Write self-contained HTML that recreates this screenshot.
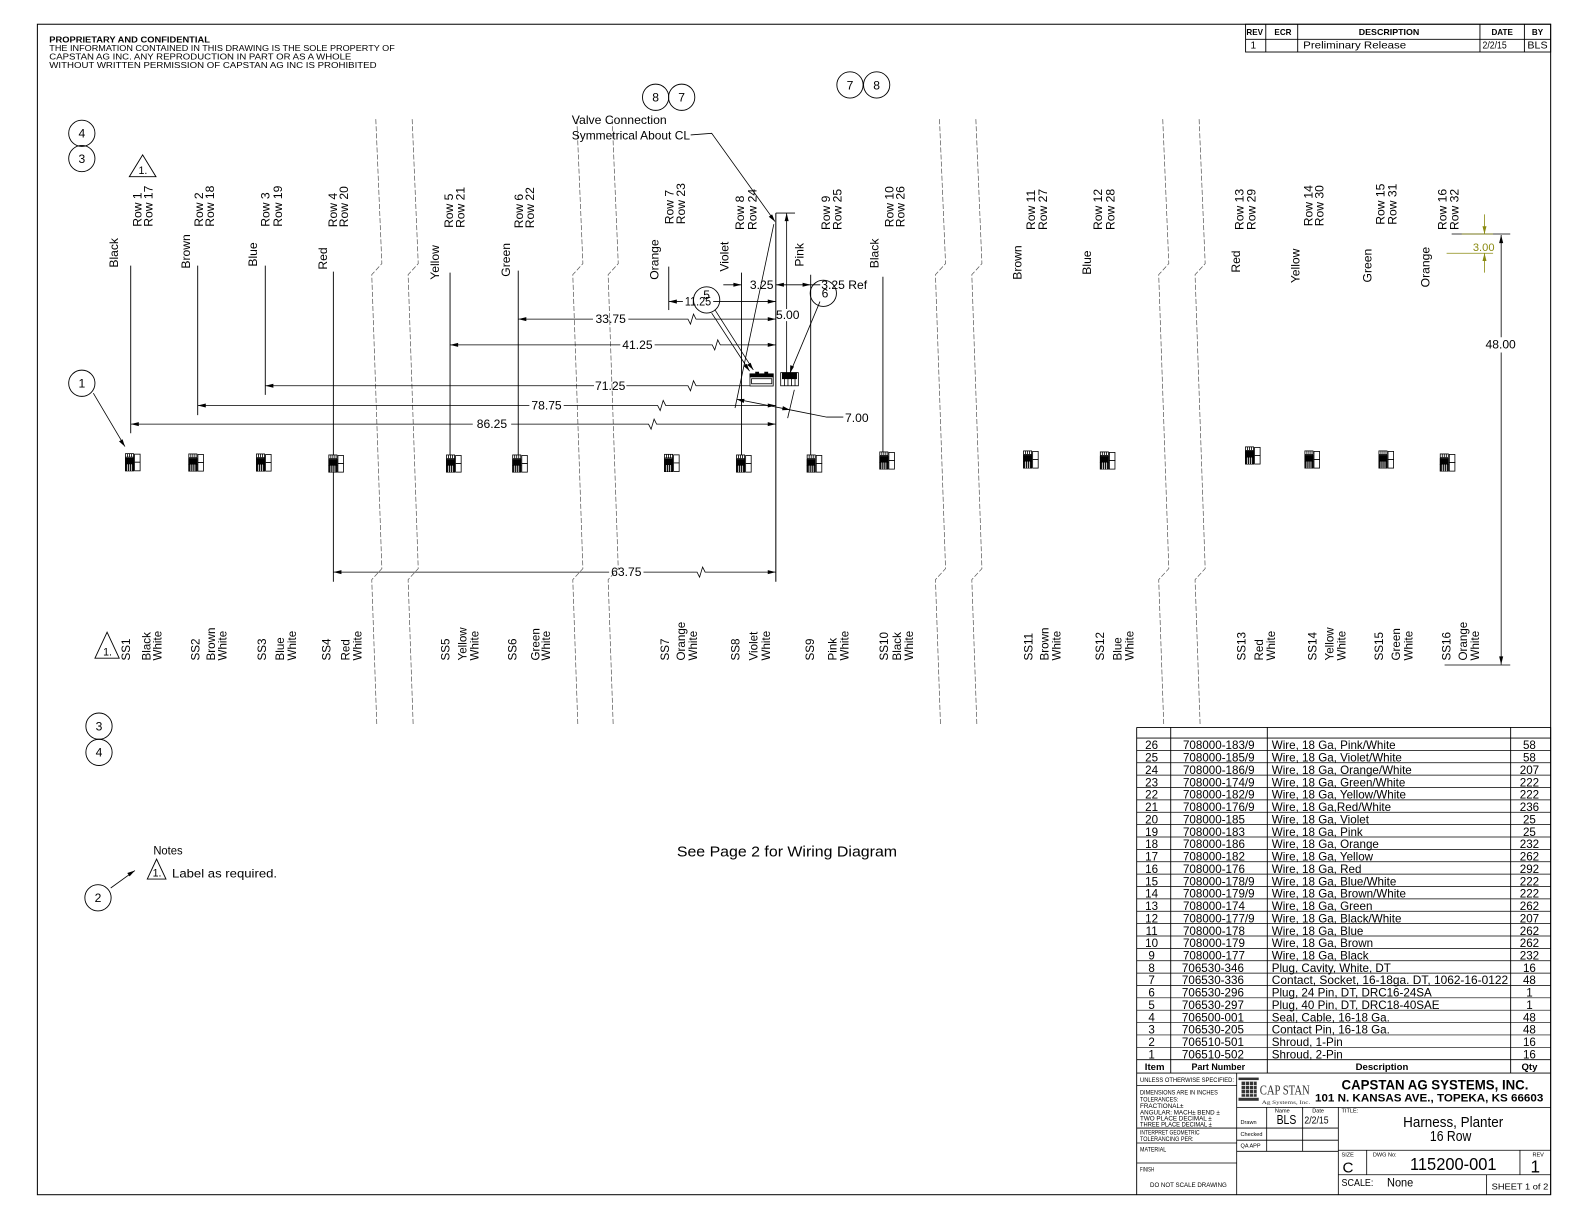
<!DOCTYPE html>
<html><head><meta charset="utf-8"><style>
html,body{margin:0;padding:0;background:#fff;}
svg{display:block;}
text{font-family:"Liberation Sans",Arial,sans-serif;fill:#000;}
.s{font-family:"Liberation Serif",serif;}
</style></head><body>
<svg width="1584" height="1224" viewBox="0 0 1568 1212" preserveAspectRatio="none" xmlns="http://www.w3.org/2000/svg">
<defs>
<g id="cn" stroke="#000" stroke-width="0.8">
<rect x="0.5" y="0.5" width="8" height="17" fill="#fff"/>
<path d="M0.5 4H8.5M2.5 0.5V4M4.5 0.5V4M6.5 0.5V4" fill="none"/>
<rect x="0.5" y="5" width="8" height="6" fill="#000"/>
<rect x="0.5" y="11" width="8" height="6.5" fill="#111"/>
<path d="M2.5 11V17.5M4.5 11V17.5M6.5 11V17.5" stroke="#fff" stroke-width="0.7"/>
<rect x="9.5" y="1" width="5.5" height="8" fill="#fff"/>
<rect x="9.5" y="9" width="5.5" height="8.5" fill="#fff"/>
</g>
</defs>
<rect x="0" y="0" width="1568" height="1212" fill="#fff"/>
<!-- frame -->
<rect x="37" y="24" width="1498" height="1159" fill="none" stroke="#000" stroke-width="1"/>

<!-- header text -->
<text x="48.8" y="42" font-size="8.3" font-weight="bold" textLength="159" lengthAdjust="spacingAndGlyphs">PROPRIETARY AND CONFIDENTIAL</text>
<text x="48.8" y="50.5" font-size="8.3" textLength="342" lengthAdjust="spacingAndGlyphs">THE INFORMATION CONTAINED IN THIS DRAWING IS THE SOLE PROPERTY OF</text>
<text x="48.8" y="59" font-size="8.3" textLength="299" lengthAdjust="spacingAndGlyphs">CAPSTAN AG INC. ANY REPRODUCTION IN PART OR AS A WHOLE</text>
<text x="48.8" y="67.5" font-size="8.3" textLength="324" lengthAdjust="spacingAndGlyphs">WITHOUT WRITTEN PERMISSION OF CAPSTAN AG INC IS PROHIBITED</text>

<!-- revision table -->
<g stroke="#000" stroke-width="0.9" fill="none">
<rect x="1233" y="24" width="302" height="27.5"/>
<path d="M1233 38.9H1535M1253 24V51.5M1284.6 24V51.5M1465 24V51.5M1509 24V51.5"/>
</g>
<g font-size="8" font-weight="bold" text-anchor="middle">
<text x="1242" y="34.5">REV</text><text x="1270" y="34.5">ECR</text><text x="1375" y="34.5" textLength="60" lengthAdjust="spacingAndGlyphs">DESCRIPTION</text><text x="1487" y="34.5">DATE</text><text x="1522" y="34.5">BY</text>
</g>
<text x="1240.7" y="48" font-size="10" text-anchor="middle">1</text>
<text x="1290" y="48" font-size="10" textLength="102" lengthAdjust="spacingAndGlyphs">Preliminary Release</text>
<text x="1467.5" y="48" font-size="10" textLength="24" lengthAdjust="spacingAndGlyphs">2/2/15</text>
<text x="1512" y="48" font-size="10" textLength="20" lengthAdjust="spacingAndGlyphs">BLS</text>

<!-- break lines -->
<g stroke="#555" stroke-width="0.7" fill="none" stroke-dasharray="5 2">
<path d="M372 118L378 261L368 272L378 563L368 574L373 718"/>
<path d="M408 118L414 261L404 272L414 563L404 574L409 718"/>
<path d="M571 118L577 261L567 272L577 563L567 574L572 718"/>
<path d="M606 118L612 261L602 272L612 563L602 574L607 718"/>
<path d="M930 118L936 261L926 272L936 563L926 574L931 718"/>
<path d="M966 118L972 261L962 272L972 563L962 574L967 718"/>
<path d="M1151 118L1157 261L1147 272L1157 563L1147 574L1152 718"/>
<path d="M1187 118L1193 261L1183 272L1193 563L1183 574L1188 718"/>
</g>

<!-- wires -->
<g stroke="#000" stroke-width="0.9" fill="none">
<path d="M129.4 263V429"/>
<path d="M195.7 263V411"/>
<path d="M262.6 263V391"/>
<path d="M330 269V576"/>
<path d="M445.5 270V457"/>
<path d="M513 268V457"/>
<path d="M662 264V307"/>
<path d="M734 270V457"/>
<path d="M802.5 272V457"/>
<path d="M874 274V455"/>
<path d="M768 211V576" stroke-width="1"/>
</g>

<!-- connectors -->
<use href="#cn" x="123.7" y="448.7"/>
<use href="#cn" x="186.4" y="449"/>
<use href="#cn" x="253.4" y="449"/>
<use href="#cn" x="325" y="450"/>
<use href="#cn" x="441.5" y="450"/>
<use href="#cn" x="507" y="450"/>
<use href="#cn" x="657.3" y="449.4"/>
<use href="#cn" x="728.6" y="450"/>
<use href="#cn" x="798.5" y="450"/>
<use href="#cn" x="870.4" y="447"/>
<use href="#cn" x="1012.7" y="446"/>
<use href="#cn" x="1088.7" y="447"/>
<use href="#cn" x="1232.4" y="442"/>
<use href="#cn" x="1291.2" y="446"/>
<use href="#cn" x="1364.5" y="446"/>
<use href="#cn" x="1425.2" y="449"/>

<!-- top labels (rotated) -->
<g font-size="12">
<text transform="translate(117 265) rotate(-90)">Black</text>
<text transform="translate(140 224.5) rotate(-90)">Row 1</text>
<text transform="translate(151 224.5) rotate(-90)">Row 17</text>
<text transform="translate(188 266) rotate(-90)">Brown</text>
<text transform="translate(201 224.5) rotate(-90)">Row 2</text>
<text transform="translate(212 224.5) rotate(-90)">Row 18</text>
<text transform="translate(254.6 264) rotate(-90)">Blue</text>
<text transform="translate(267 224.5) rotate(-90)">Row 3</text>
<text transform="translate(279 224.5) rotate(-90)">Row 19</text>
<text transform="translate(323.6 267) rotate(-90)">Red</text>
<text transform="translate(333.6 225) rotate(-90)">Row 4</text>
<text transform="translate(344.6 225) rotate(-90)">Row 20</text>
<text transform="translate(434.5 277) rotate(-90)">Yellow</text>
<text transform="translate(448.4 225.7) rotate(-90)">Row 5</text>
<text transform="translate(460 225.7) rotate(-90)">Row 21</text>
<text transform="translate(505 274) rotate(-90)">Green</text>
<text transform="translate(517.5 226) rotate(-90)">Row 6</text>
<text transform="translate(528.5 226) rotate(-90)">Row 22</text>
<text transform="translate(652 277) rotate(-90)">Orange</text>
<text transform="translate(666.5 222) rotate(-90)">Row 7</text>
<text transform="translate(678 222) rotate(-90)">Row 23</text>
<text transform="translate(721 269) rotate(-90)">Violet</text>
<text transform="translate(736.5 227.7) rotate(-90)">Row 8</text>
<text transform="translate(749 227.7) rotate(-90)">Row 24</text>
<text transform="translate(795.2 264) rotate(-90)">Pink</text>
<text transform="translate(821.6 227.7) rotate(-90)">Row 9</text>
<text transform="translate(833 227.7) rotate(-90)">Row 25</text>
<text transform="translate(869.5 265.6) rotate(-90)">Black</text>
<text transform="translate(884.3 225) rotate(-90)">Row 10</text>
<text transform="translate(895.5 225) rotate(-90)">Row 26</text>
<text transform="translate(1011 277) rotate(-90)">Brown</text>
<text transform="translate(1024.6 227.7) rotate(-90)">Row 11</text>
<text transform="translate(1036.4 227.7) rotate(-90)">Row 27</text>
<text transform="translate(1080 272) rotate(-90)">Blue</text>
<text transform="translate(1091 227.7) rotate(-90)">Row 12</text>
<text transform="translate(1103 227.7) rotate(-90)">Row 28</text>
<text transform="translate(1227.5 270) rotate(-90)">Red</text>
<text transform="translate(1231 227.7) rotate(-90)">Row 13</text>
<text transform="translate(1243 227.7) rotate(-90)">Row 29</text>
<text transform="translate(1286.5 280.4) rotate(-90)">Yellow</text>
<text transform="translate(1299 224) rotate(-90)">Row 14</text>
<text transform="translate(1310 224) rotate(-90)">Row 30</text>
<text transform="translate(1357.7 279.7) rotate(-90)">Green</text>
<text transform="translate(1370.6 222.5) rotate(-90)">Row 15</text>
<text transform="translate(1382.6 222.5) rotate(-90)">Row 31</text>
<text transform="translate(1415 284.5) rotate(-90)">Orange</text>
<text transform="translate(1432 227.7) rotate(-90)">Row 16</text>
<text transform="translate(1444 227.7) rotate(-90)">Row 32</text>
</g>

<!-- bottom labels (rotated) -->
<g font-size="11.5">
<text transform="translate(128.7 654) rotate(-90)">SS1</text>
<text transform="translate(149.2 654) rotate(-90)">Black</text>
<text transform="translate(160 654) rotate(-90)">White</text>
<text transform="translate(197.3 654) rotate(-90)">SS2</text>
<text transform="translate(213 654) rotate(-90)">Brown</text>
<text transform="translate(224.4 654) rotate(-90)">White</text>
<text transform="translate(263.3 654) rotate(-90)">SS3</text>
<text transform="translate(281 654) rotate(-90)">Blue</text>
<text transform="translate(293 654) rotate(-90)">White</text>
<text transform="translate(327.3 654) rotate(-90)">SS4</text>
<text transform="translate(345.8 654) rotate(-90)">Red</text>
<text transform="translate(358 654) rotate(-90)">White</text>
<text transform="translate(444.8 654) rotate(-90)">SS5</text>
<text transform="translate(462 654) rotate(-90)">Yellow</text>
<text transform="translate(473.5 654) rotate(-90)">White</text>
<text transform="translate(511.4 654) rotate(-90)">SS6</text>
<text transform="translate(534 654) rotate(-90)">Green</text>
<text transform="translate(544.5 654) rotate(-90)">White</text>
<text transform="translate(662 654) rotate(-90)">SS7</text>
<text transform="translate(678 654) rotate(-90)">Orange</text>
<text transform="translate(690 654) rotate(-90)">White</text>
<text transform="translate(732 654) rotate(-90)">SS8</text>
<text transform="translate(750 654) rotate(-90)">Violet</text>
<text transform="translate(762 654) rotate(-90)">White</text>
<text transform="translate(806 654) rotate(-90)">SS9</text>
<text transform="translate(828 654) rotate(-90)">Pink</text>
<text transform="translate(840 654) rotate(-90)">White</text>
<text transform="translate(879 654) rotate(-90)">SS10</text>
<text transform="translate(892 654) rotate(-90)">Black</text>
<text transform="translate(904 654) rotate(-90)">White</text>
<text transform="translate(1022 654) rotate(-90)">SS11</text>
<text transform="translate(1038 654) rotate(-90)">Brown</text>
<text transform="translate(1050 654) rotate(-90)">White</text>
<text transform="translate(1093 654) rotate(-90)">SS12</text>
<text transform="translate(1110 654) rotate(-90)">Blue</text>
<text transform="translate(1122 654) rotate(-90)">White</text>
<text transform="translate(1233 654) rotate(-90)">SS13</text>
<text transform="translate(1250 654) rotate(-90)">Red</text>
<text transform="translate(1262 654) rotate(-90)">White</text>
<text transform="translate(1303 654) rotate(-90)">SS14</text>
<text transform="translate(1320 654) rotate(-90)">Yellow</text>
<text transform="translate(1332 654) rotate(-90)">White</text>
<text transform="translate(1369 654) rotate(-90)">SS15</text>
<text transform="translate(1386 654) rotate(-90)">Green</text>
<text transform="translate(1398 654) rotate(-90)">White</text>
<text transform="translate(1436 654) rotate(-90)">SS16</text>
<text transform="translate(1452 654) rotate(-90)">Orange</text>
<text transform="translate(1464 654) rotate(-90)">White</text>
</g>

<!-- dimensions -->
<g stroke="#000" stroke-width="0.8" fill="none">
<path d="M513 316H587M622 316H681l2.5 5l3 -10l2.5 5H768"/>
<path d="M445.5 341.5H614M648 341.5H705l2.5 5l3 -10l2.5 5H768"/>
<path d="M262.6 382H588M620 382H681l2.5 5l3 -10l2.5 5H742"/>
<path d="M195.7 401.5H524M558 401.5H651l2.5 5l3 -10l2.5 5H768"/>
<path d="M129.4 420H468M506 420H642l2.5 5l3 -10l2.5 5H768"/>
<path d="M330 566.5H603M637 566.5H690l2.5 5l3 -10l2.5 5H768"/>
<path d="M662 298.6H676M706 298.6H768"/>
<path d="M778.7 211V306M778.7 318V369M768 211H787"/>
<path d="M716 282H734M768 282H812"/>
<path d="M766 222L727.6 404M786.3 386L779.7 414M729.2 395.3L782 405.8L818.3 413H834.8"/>
<path d="M683.7 133.6L704.5 132L767.2 219.4"/>
<path d="M92.4 389.3L123.7 442.2"/>
<path d="M109.6 879.3L133.6 862"/>
<path d="M707.8 306.9L745.7 366.3M704.5 310L742 367.5"/>
<path d="M811.7 298.6L782 369.5"/>
<path d="M1486 232.7V334M1486 349V658M1437 231.7H1495M1430 658.5H1495"/>
</g>
<g fill="#000" stroke="none">
<polygon points="513,316 521,314 521,318"/><polygon points="768,316 760,314 760,318"/>
<polygon points="445.5,341.5 453.5,339.5 453.5,343.5"/><polygon points="768,341.5 760,339.5 760,343.5"/>
<polygon points="262.6,382 270.6,380 270.6,384"/>
<polygon points="195.7,401.5 203.7,399.5 203.7,403.5"/><polygon points="768,401.5 760,399.5 760,403.5"/>
<polygon points="129.4,420 137.4,418 137.4,422"/><polygon points="768,420 760,418 760,422"/>
<polygon points="330,566.5 338,564.5 338,568.5"/><polygon points="768,566.5 760,564.5 760,568.5"/>
<polygon points="662,298.6 670,296.6 670,300.6"/><polygon points="768,298.6 760,296.6 760,300.6"/>
<polygon points="778.7,211 776.7,219 780.7,219"/>
<polygon points="734,282 726,280 726,284"/><polygon points="768,282 776,280 776,284"/><polygon points="802.5,282 794.5,280 794.5,284"/>
<polygon points="729.2,395.3 737,395 736.2,399"/><polygon points="782,405.8 774.2,406.2 775,402.2"/>
<polygon points="767.2,219.4 761,214.6 764.3,212.3"/>
<polygon points="123.7,442.2 117.8,437 121.3,435"/>
<polygon points="133.6,862 128.3,867.8 126,864.5"/>
<polygon points="745.7,366.3 739.6,361.3 743,359.2"/>
<polygon points="742,367.5 736,362.4 739.3,360.3"/>
<polygon points="782,369.5 782.3,361.5 786,363"/>
<polygon points="1486,232.7 1484,240.7 1488,240.7"/><polygon points="1486,658 1484,650 1488,650"/>
</g>
<g font-size="12" text-anchor="middle">
<text x="604.5" y="320">33.75</text>
<text x="631" y="345.5">41.25</text>
<text x="604" y="386">71.25</text>
<text x="541" y="405.5">78.75</text>
<text x="487" y="424">86.25</text>
<text x="620" y="570.5">63.75</text>
<text x="691" y="302.6" textLength="26" lengthAdjust="spacingAndGlyphs">11.25</text>
<text x="754" y="286">3.25</text>
<text x="779.8" y="316">5.00</text>
<text x="1485.5" y="345">48.00</text>
</g>
<text x="813" y="286" font-size="12">3.25 Ref</text>
<text x="836.5" y="418" font-size="12">7.00</text>

<!-- olive 3.00 dim -->
<g stroke="#8a8a10" stroke-width="0.8" fill="none">
<path d="M1447 231.7H1478M1432 250.8H1478M1469.5 212.3V231.7M1469.5 270V250.8"/>
</g>
<g fill="#8a8a10"><polygon points="1469.5,231.7 1467.5,224 1471.5,224"/><polygon points="1469.5,250.8 1467.5,258.5 1471.5,258.5"/></g>
<text x="1458" y="248.5" font-size="11" fill="#8a8a10" style="fill:#8a8a10">3.00</text>

<!-- valve connectors -->
<g stroke="#000" stroke-width="0.8">
<rect x="742.4" y="370.2" width="23" height="12" fill="#fff"/>
<rect x="742.4" y="370.2" width="23" height="3" fill="#000"/>
<rect x="744" y="375" width="20" height="5" fill="none"/>
<rect x="748" y="368.5" width="3" height="3" fill="#000"/>
<rect x="757" y="368.5" width="3" height="3" fill="#000"/>
<rect x="772.8" y="369" width="17.5" height="13" fill="#fff"/>
<rect x="774.5" y="369" width="14" height="6" fill="#000"/>
<path d="M776.5 375V382M780 375V382M783.5 375V382M787 375V382" fill="none"/>
</g>

<!-- valve text -->
<text x="566" y="123" font-size="12" textLength="94" lengthAdjust="spacingAndGlyphs">Valve Connection</text>
<text x="566" y="138" font-size="12" textLength="117" lengthAdjust="spacingAndGlyphs">Symmetrical About CL</text>

<!-- balloons -->
<g stroke="#000" stroke-width="0.9" fill="none">
<circle cx="81" cy="132" r="13"/><circle cx="81" cy="157" r="13"/>
<circle cx="81" cy="379.5" r="13"/>
<circle cx="649" cy="96.3" r="13"/><circle cx="674.8" cy="96.3" r="13"/>
<circle cx="841.4" cy="84.1" r="13"/><circle cx="867.8" cy="84.1" r="13"/>
<circle cx="699.5" cy="297" r="13"/>
<circle cx="815" cy="290.4" r="13"/>
<circle cx="98" cy="719" r="13"/><circle cx="98" cy="745" r="13"/>
<circle cx="97" cy="889" r="13"/>
<polygon points="141.2,153.4 128,175 154.4,175"/>
<polygon points="106,626 94,651.7 118,651.7"/>
<polygon points="155,850.7 145.8,870.4 164.3,870.4"/>
</g>
<g font-size="12" text-anchor="middle">
<text x="81" y="136.3">4</text><text x="81" y="161.3">3</text>
<text x="81" y="383.8">1</text>
<text x="649" y="100.6">8</text><text x="674.8" y="100.6">7</text>
<text x="841.4" y="88.4">7</text><text x="867.8" y="88.4">8</text>
<text x="699.5" y="296">5</text>
<text x="816.7" y="294.5">6</text>
<text x="98" y="723.3">3</text><text x="98" y="749.3">4</text>
<text x="97" y="893.3">2</text>
</g>
<g font-size="10.5" text-anchor="middle">
<text x="141.5" y="172.5">1.</text>
<text x="106.5" y="649">1.</text>
<text x="155.5" y="868">1.</text>
</g>

<!-- notes -->
<text x="151.8" y="846" font-size="12" textLength="29" lengthAdjust="spacingAndGlyphs">Notes</text>
<text x="170.3" y="869" font-size="12" textLength="104" lengthAdjust="spacingAndGlyphs">Label as required.</text>
<text x="670" y="848" font-size="15" textLength="218" lengthAdjust="spacingAndGlyphs">See Page 2 for Wiring Diagram</text>

<!-- BOM table -->
<g stroke="#000" stroke-width="0.9" fill="none">
<path d="M1125.2 720.3H1535M1125.2 730.8H1535M1125.2 720.3V1183M1535 720.3V1183M1158.9 720.3V1062.5M1254.5 720.3V1062.5M1495.4 720.3V1062.5"/>
<path stroke-width="0.7" d="M1125.2 743.05H1535M1125.2 755.3H1535M1125.2 767.55H1535M1125.2 779.8H1535M1125.2 792.05H1535M1125.2 804.3H1535M1125.2 816.55H1535M1125.2 828.8H1535M1125.2 841.05H1535M1125.2 853.3H1535M1125.2 865.55H1535M1125.2 877.8H1535M1125.2 890.05H1535M1125.2 902.3H1535M1125.2 914.55H1535M1125.2 926.8H1535M1125.2 939.05H1535M1125.2 951.3H1535M1125.2 963.55H1535M1125.2 975.8H1535M1125.2 988.05H1535M1125.2 1000.3H1535M1125.2 1012.55H1535M1125.2 1024.8H1535M1125.2 1037.05H1535"/>
<path d="M1125.2 1049.3H1535M1125.2 1062.5H1535"/>
</g>
<g font-size="11.5">
<g text-anchor="middle">
<text x="1140" y="741.9">26</text><text x="1140" y="754.1">25</text><text x="1140" y="766.4">24</text><text x="1140" y="778.6">23</text><text x="1140" y="790.9">22</text><text x="1140" y="803.1">21</text><text x="1140" y="815.4">20</text><text x="1140" y="827.6">19</text><text x="1140" y="839.9">18</text><text x="1140" y="852.1">17</text><text x="1140" y="864.4">16</text><text x="1140" y="876.6">15</text><text x="1140" y="888.9">14</text><text x="1140" y="901.1">13</text><text x="1140" y="913.4">12</text><text x="1140" y="925.6">11</text><text x="1140" y="937.9">10</text><text x="1140" y="950.1">9</text><text x="1140" y="962.4">8</text><text x="1140" y="974.6">7</text><text x="1140" y="986.9">6</text><text x="1140" y="999.1">5</text><text x="1140" y="1011.4">4</text><text x="1140" y="1023.6">3</text><text x="1140" y="1035.9">2</text><text x="1140" y="1048.1">1</text>
<text x="1514" y="741.9">58</text><text x="1514" y="754.1">58</text><text x="1514" y="766.4">207</text><text x="1514" y="778.6">222</text><text x="1514" y="790.9">222</text><text x="1514" y="803.1">236</text><text x="1514" y="815.4">25</text><text x="1514" y="827.6">25</text><text x="1514" y="839.9">232</text><text x="1514" y="852.1">262</text><text x="1514" y="864.4">292</text><text x="1514" y="876.6">222</text><text x="1514" y="888.9">222</text><text x="1514" y="901.1">262</text><text x="1514" y="913.4">207</text><text x="1514" y="925.6">262</text><text x="1514" y="937.9">262</text><text x="1514" y="950.1">232</text><text x="1514" y="962.4">16</text><text x="1514" y="974.6">48</text><text x="1514" y="986.9">1</text><text x="1514" y="999.1">1</text><text x="1514" y="1011.4">48</text><text x="1514" y="1023.6">48</text><text x="1514" y="1035.9">16</text><text x="1514" y="1048.1">16</text>
</g>
<text x="1171" y="741.9">708000-183/9</text><text x="1171" y="754.1">708000-185/9</text><text x="1171" y="766.4">708000-186/9</text><text x="1171" y="778.6">708000-174/9</text><text x="1171" y="790.9">708000-182/9</text><text x="1171" y="803.1">708000-176/9</text><text x="1171" y="815.4">708000-185</text><text x="1171" y="827.6">708000-183</text><text x="1171" y="839.9">708000-186</text><text x="1171" y="852.1">708000-182</text><text x="1171" y="864.4">708000-176</text><text x="1171" y="876.6">708000-178/9</text><text x="1171" y="888.9">708000-179/9</text><text x="1171" y="901.1">708000-174</text><text x="1171" y="913.4">708000-177/9</text><text x="1171" y="925.6">708000-178</text><text x="1171" y="937.9">708000-179</text><text x="1171" y="950.1">708000-177</text><text x="1170" y="962.4">706530-346</text><text x="1170" y="974.6">706530-336</text><text x="1170" y="986.9">706530-296</text><text x="1170" y="999.1">706530-297</text><text x="1170" y="1011.4">706500-001</text><text x="1170" y="1023.6">706530-205</text><text x="1170" y="1035.9">706510-501</text><text x="1170" y="1048.1">706510-502</text>
<text x="1258.9" y="741.9">Wire, 18 Ga, Pink/White</text><text x="1258.9" y="754.1">Wire, 18 Ga, Violet/White</text><text x="1258.9" y="766.4">Wire, 18 Ga, Orange/White</text><text x="1258.9" y="778.6">Wire, 18 Ga, Green/White</text><text x="1258.9" y="790.9">Wire, 18 Ga, Yellow/White</text><text x="1258.9" y="803.1">Wire, 18 Ga,Red/White</text><text x="1258.9" y="815.4">Wire, 18 Ga, Violet</text><text x="1258.9" y="827.6">Wire, 18 Ga, Pink</text><text x="1258.9" y="839.9">Wire, 18 Ga, Orange</text><text x="1258.9" y="852.1">Wire, 18 Ga, Yellow</text><text x="1258.9" y="864.4">Wire, 18 Ga, Red</text><text x="1258.9" y="876.6">Wire, 18 Ga, Blue/White</text><text x="1258.9" y="888.9">Wire, 18 Ga, Brown/White</text><text x="1258.9" y="901.1">Wire, 18 Ga, Green</text><text x="1258.9" y="913.4">Wire, 18 Ga, Black/White</text><text x="1258.9" y="925.6">Wire, 18 Ga, Blue</text><text x="1258.9" y="937.9">Wire, 18 Ga, Brown</text><text x="1258.9" y="950.1">Wire, 18 Ga, Black</text><text x="1258.9" y="962.4">Plug, Cavity, White, DT</text><text x="1258.9" y="974.6" textLength="234" lengthAdjust="spacingAndGlyphs">Contact, Socket, 16-18ga. DT, 1062-16-0122</text><text x="1258.9" y="986.9">Plug, 24 Pin, DT, DRC16-24SA</text><text x="1258.9" y="999.1">Plug, 40 Pin, DT, DRC18-40SAE</text><text x="1258.9" y="1011.4">Seal, Cable, 16-18 Ga.</text><text x="1258.9" y="1023.6">Contact Pin, 16-18 Ga.</text><text x="1258.9" y="1035.9">Shroud, 1-Pin</text><text x="1258.9" y="1048.1">Shroud, 2-Pin</text>
</g>
<g font-size="9.5" font-weight="bold" text-anchor="middle">
<text x="1143" y="1059.5">Item</text>
<text x="1206" y="1059.5" textLength="53" lengthAdjust="spacingAndGlyphs">Part Number</text>
<text x="1368" y="1059.5">Description</text>
<text x="1514" y="1059.5">Qty</text>
</g>

<!-- title block -->
<g stroke="#000" stroke-width="0.8" fill="none">
<path d="M1224.2 1062.5V1183M1125.2 1075H1224.2M1125.2 1117H1224.2M1125.2 1131.8H1224.2M1125.2 1151.6H1224.2"/>
<path d="M1224.2 1096.5H1535M1224.2 1117H1324.8M1224.2 1129H1324.8M1224.2 1140H1324.8M1253.9 1096.5V1140M1289.5 1096.5V1140M1324.8 1096.5V1183"/>
<path d="M1324.8 1139H1535M1352.9 1139V1163.2M1504.6 1139V1163.2M1324.8 1163.2H1535M1471.6 1163.2V1183"/>
</g>
<g font-size="6.3" fill="#222">
<text x="1128.5" y="1071.5" textLength="93" lengthAdjust="spacingAndGlyphs">UNLESS OTHERWISE SPECIFIED:</text>
<text x="1128.5" y="1084" textLength="77" lengthAdjust="spacingAndGlyphs">DIMENSIONS ARE IN INCHES</text>
<text x="1128.5" y="1090.5" textLength="38" lengthAdjust="spacingAndGlyphs">TOLERANCES:</text>
<text x="1128.5" y="1097" textLength="43" lengthAdjust="spacingAndGlyphs">FRACTIONAL±</text>
<text x="1128.5" y="1103.5" textLength="79" lengthAdjust="spacingAndGlyphs">ANGULAR: MACH±   BEND ±</text>
<text x="1128.5" y="1109.5" textLength="71" lengthAdjust="spacingAndGlyphs">TWO PLACE DECIMAL   ±</text>
<text x="1128.5" y="1115.5" textLength="71" lengthAdjust="spacingAndGlyphs">THREE PLACE DECIMAL  ±</text>
<text x="1128.5" y="1123.5" textLength="59" lengthAdjust="spacingAndGlyphs">INTERPRET GEOMETRIC</text>
<text x="1128.5" y="1129.8" textLength="53" lengthAdjust="spacingAndGlyphs">TOLERANCING PER:</text>
<text x="1128.5" y="1140" textLength="26" lengthAdjust="spacingAndGlyphs">MATERIAL</text>
<text x="1128.5" y="1160" textLength="14" lengthAdjust="spacingAndGlyphs">FINISH</text>
<text x="1138.4" y="1175.5" textLength="76" lengthAdjust="spacingAndGlyphs">DO NOT SCALE DRAWING</text>
<text x="1262" y="1101.5" font-size="5.5">Name</text>
<text x="1299" y="1101.5" font-size="5.5">Date</text>
<text x="1228" y="1113" font-size="5.5">Drawn</text>
<text x="1228" y="1125" font-size="5.5">Checked</text>
<text x="1228" y="1136.5" font-size="5.5">QA APP</text>
<text x="1328" y="1101.5" font-size="5.5">TITLE:</text>
<text x="1328" y="1145" font-size="5.5">SIZE</text>
<text x="1359" y="1145" font-size="5.5">DWG No:</text>
<text x="1517" y="1145" font-size="5.5">REV</text>
</g>
<!-- logo -->
<g fill="#333">
<rect x="1226" y="1067" width="20" height="2.5"/>
<rect x="1229" y="1071" width="15" height="15"/>
<rect x="1226" y="1087" width="20" height="3"/>
</g>
<g stroke="#fff" stroke-width="0.7"><path d="M1229 1075H1244M1229 1079H1244M1229 1083H1244M1233 1071V1086M1237 1071V1086M1241 1071V1086"/></g>
<text class="s" x="1247" y="1084" font-size="13" fill="#333" style="fill:#333" textLength="49.5" lengthAdjust="spacingAndGlyphs">CAP STAN</text>
<text class="s" x="1249" y="1093" font-size="5.5" fill="#333" style="fill:#333" textLength="48" lengthAdjust="spacingAndGlyphs">Ag Systems, Inc.</text>

<text x="1328" y="1079" font-size="14" font-weight="bold" textLength="185" lengthAdjust="spacingAndGlyphs">CAPSTAN AG SYSTEMS, INC.</text>
<text x="1301.7" y="1090.5" font-size="11" font-weight="bold" textLength="226" lengthAdjust="spacingAndGlyphs">101 N. KANSAS AVE., TOPEKA, KS 66603</text>
<text x="1263.7" y="1113" font-size="13" textLength="19.5" lengthAdjust="spacingAndGlyphs">BLS</text>
<text x="1291.2" y="1112.5" font-size="10" textLength="24" lengthAdjust="spacingAndGlyphs">2/2/15</text>
<text x="1438.5" y="1116" font-size="15" text-anchor="middle" textLength="99" lengthAdjust="spacingAndGlyphs">Harness, Planter</text>
<text x="1436" y="1130" font-size="15" text-anchor="middle" textLength="41" lengthAdjust="spacingAndGlyphs">16 Row</text>
<text x="1329" y="1161" font-size="15">C</text>
<text x="1438.6" y="1158.5" font-size="17" text-anchor="middle" textLength="85.7" lengthAdjust="spacingAndGlyphs">115200-001</text>
<text x="1515" y="1161" font-size="17">1</text>
<text x="1328" y="1174.5" font-size="10" textLength="31.5" lengthAdjust="spacingAndGlyphs">SCALE:</text>
<text x="1373" y="1175" font-size="12" textLength="26" lengthAdjust="spacingAndGlyphs">None</text>
<text x="1476.6" y="1178" font-size="8.5" textLength="56" lengthAdjust="spacingAndGlyphs">SHEET 1 of 2</text>
</svg>
</body></html>
